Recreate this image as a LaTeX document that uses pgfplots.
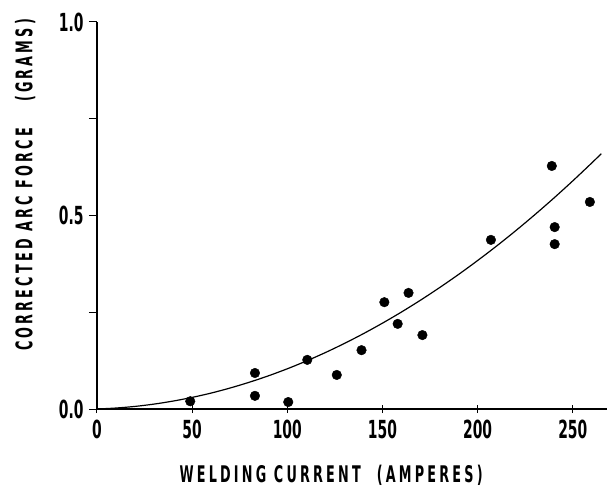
\documentclass[border=0pt]{standalone}
\usepackage{pgfplots}
\pgfplotsset{compat=1.18}
\usepackage{fontspec}
\setmainfont{DejaVu Sans Condensed}
\newfontfamily\lbl{DejaVu Sans Condensed Bold}[FakeStretch=0.62]
\newcommand{\tickfont}{\lbl\fontsize{25}{25}\selectfont}
\newcommand{\labfont}{\lbl\fontsize{23}{23}\selectfont\addfontfeatures{LetterSpace=14}}
\begin{document}
\begin{tikzpicture}
\path[use as bounding box] (-97bp,-81bp) rectangle (515bp,409bp);
\begin{axis}[
  scale only axis, width=510bp, height=387bp,
  xmin=0, xmax=268, ymin=0, ymax=1.0,
  axis x line=bottom, axis y line=left,
  axis line style={-, line width=1.2bp},
  xtick={0,50,100,150,200,250},
  xticklabels={0,50,100,150,200,250},
  ytick={0,0.5,1.0}, yticklabels={0.0,0.5,1.0},
  minor ytick={0.25,0.75},
  y tick style={line width=1bp, black},
  x tick style={line width=1bp, black},
  xtick align=center, ytick align=outside,
  major tick length=8bp, minor tick length=8bp,
  tick label style={font=\tickfont},
  xticklabel style={yshift=-3bp},
  yticklabel style={xshift=-2bp},
  /pgf/number format/assume math mode=true,
  xlabel={\labfont WELDING CURRENT\hspace{16bp}(AMPERES)},
  ylabel={\labfont CORRECTED ARC FORCE\hspace{26bp}(GRAMS)},
  xlabel style={at={(axis description cs:0.459,-0.172)}, anchor=center},
  ylabel style={at={(axis description cs:-0.141,0.579)}, anchor=center},
  clip=false,
]
\addplot[only marks, mark=*, mark size=4.8bp, black] coordinates {
(49,0.020) (83,0.093) (83,0.034) (100.5,0.018) (110.5,0.127) (126,0.088)
(139,0.152) (151,0.276) (158,0.220) (163.7,0.300) (171,0.191) (207,0.437)
(239,0.628) (240.5,0.470) (240.5,0.426) (259,0.535)
};
\addplot[black, line width=1.2bp, smooth] coordinates {
(0,0) (10,0.0025) (20,0.0067) (30,0.0127) (40,0.0205) (50,0.030) (60,0.0412)
(70,0.0543) (80,0.0691) (90,0.0856) (100,0.1039) (110,0.1240) (120,0.1458)
(130,0.1694) (140,0.1947) (150,0.2218) (160,0.2506) (170,0.2812) (180,0.3136)
(190,0.3477) (200,0.3836) (210,0.4212) (220,0.4606) (230,0.5018) (240,0.5447)
(250,0.5894) (260,0.6358) (265,0.6597)
};
\end{axis}
\end{tikzpicture}
\end{document}
